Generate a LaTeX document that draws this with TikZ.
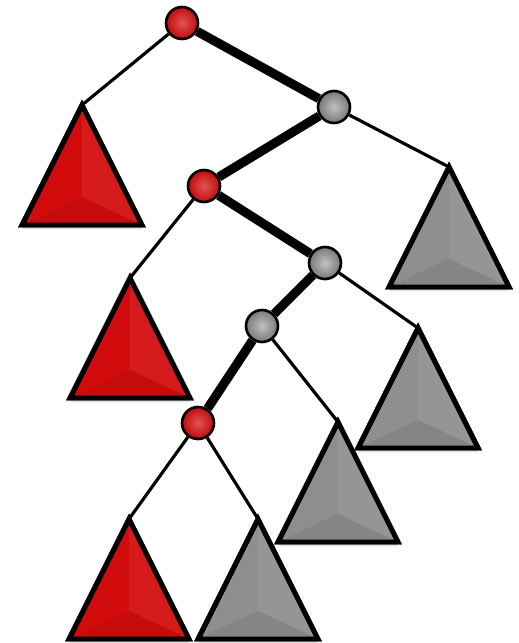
\documentclass[tikz,border=0pt]{standalone}
\usepackage{tikz}
\usetikzlibrary{shadows}
\definecolor{cRed}{HTML}{D20C0C}
\definecolor{cGrey}{HTML}{8E8E8E}

\begin{document}
\begin{tikzpicture}[
    x=0.02cm, y=-0.02cm,
    vtx/.style={circle, draw=black, line width=1.5pt, minimum size=0.64cm,
                inner sep=0pt, shading=radial},
    rvtx/.style={vtx, inner color=cRed!70!white, outer color=cRed!92!black},
    gvtx/.style={vtx, inner color=cGrey!55!white, outer color=cGrey!85!black},
    spine/.style={line width=5.2pt, black},
    twig/.style={line width=1.8pt, black},
    tree/.pic={
      \draw[line width=2.8pt, fill=#1, line join=miter,
            drop shadow={opacity=0.22, shadow xshift=0pt, shadow yshift=-2.5pt}]
            (0,0) -- (-60,120) -- (60,120) -- cycle;
      \fill[#1!94!white] (0,0) -- (60,120) -- (0,92) -- cycle;
      \fill[#1!94!black] (-60,120) -- (60,120) -- (0,92) -- cycle;
      \draw[line width=2.8pt, line join=miter] (0,0) -- (-60,120) -- (60,120) -- cycle;
    },
]
\useasboundingbox (0,0) rectangle (518,643);

% ===================== Sommets des sous-arbres =====================
\coordinate (tA) at (82,105);
\coordinate (tB) at (449,167);
\coordinate (tC) at (130,278);
\coordinate (tD) at (418,328);
\coordinate (tE) at (338,422);
\coordinate (tF) at (129,519);
\coordinate (tG) at (258,519);

% ===================== Sous-arbres =====================
\pic at (tA) {tree=cRed};
\pic at (tB) {tree=cGrey};
\pic at (tC) {tree=cRed};
\pic at (tD) {tree=cGrey};
\pic at (tE) {tree=cGrey};
\pic at (tF) {tree=cRed};
\pic at (tG) {tree=cGrey};

% ===================== Noeuds du chemin =====================
\node[rvtx] (r1) at (182,23) {};
\node[gvtx] (g1) at (334,107) {};
\node[rvtx] (r2) at (204,186) {};
\node[gvtx] (g2) at (325,263) {};
\node[gvtx] (g3) at (262,326) {};
\node[rvtx] (r3) at (198,423) {};

% ===================== Chemin =====================
\draw[spine] (r1) -- (g1);
\draw[spine] (g1) -- (r2);
\draw[spine] (r2) -- (g2);
\draw[spine] (g2) -- (g3);
\draw[spine] (g3) -- (r3);

% ===================== Branches vers les sous-arbres =====================
\draw[twig] (r1) -- (tA);
\draw[twig] (g1) -- (tB);
\draw[twig] (r2) -- (tC);
\draw[twig] (g2) -- (tD);
\draw[twig] (g3) -- (tE);
\draw[twig] (r3) -- (tF);
\draw[twig] (r3) -- (tG);

\end{tikzpicture}
\end{document}
